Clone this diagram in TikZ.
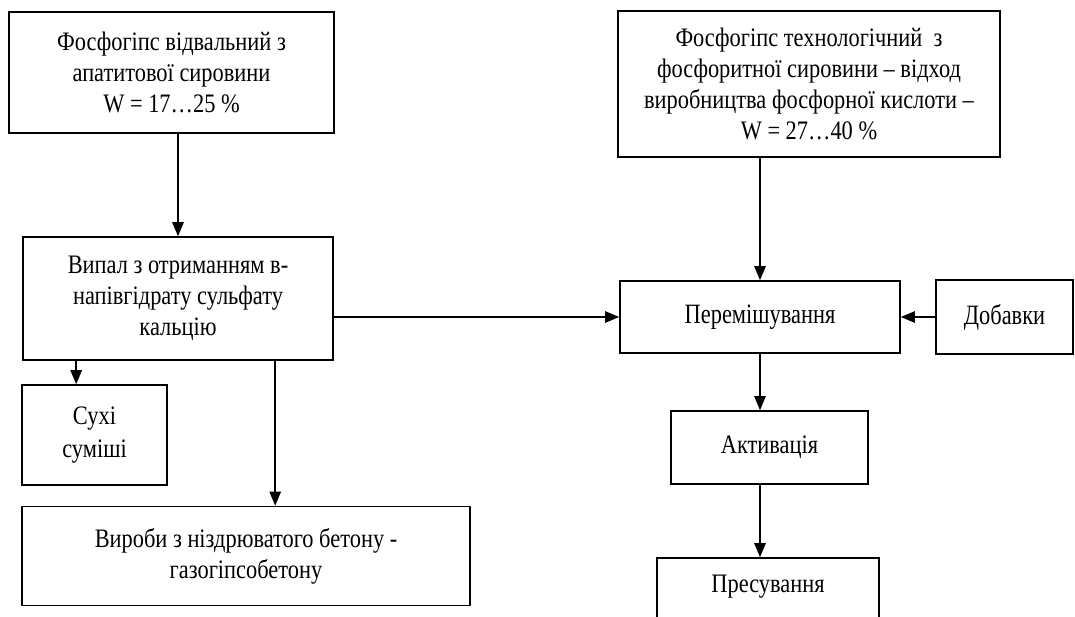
\documentclass[tikz,border=0pt]{standalone}
\usepackage{fontspec}
\setmainfont{Liberation Serif}[FakeStretch=0.84]
\newfontfamily\bigf{Liberation Serif}[FakeStretch=0.8]
\usetikzlibrary{arrows.meta}
\begin{document}
\begin{tikzpicture}[x=0.75pt,y=-0.75pt,
  box/.style={draw, line width=1.2pt, rectangle, inner sep=0pt, align=center, font=\fontsize{20}{23.25}\selectfont},
  bigbox/.style={box, font=\bigf\fontsize{21}{24}\selectfont},
  plain/.style={inner sep=0pt, align=center, font=\fontsize{20}{23.25}\selectfont},
  arr/.style={line width=1.2pt, -{Triangle[length=10.5pt,width=8.5pt]}}]
\clip (0,0) rectangle (1075,617);
\fill[white] (0,0) rectangle (1075,617);
\node[box, minimum width=243.75pt, minimum height=90.75pt] (b1) at (171.5,72.5)
  {Фосфогіпс відвальний з\\апатитової сировини\\W = 17…25 \%};
\node[box, minimum width=286.5pt, minimum height=109.5pt] (b2) at (809,84)
  {Фосфогіпс технологічний~ з\\фосфоритної сировини – відход\\виробництва фосфорної кислоти –\\W = 27…40 \%};
\node[box, minimum width=232.5pt, minimum height=92.25pt] (b3) at (178,298.5)
  {Випал з отриманням в-\\напівгідрату сульфату\\кальцію};
\node[box, minimum width=108.75pt, minimum height=75pt] (sux) at (94.5,435)
  {Сухі\\[2pt]суміші};
\node[box, minimum width=336pt, minimum height=74.25pt] (vyr) at (246,556)
  {Вироби з ніздрюватого бетону -\\газогіпсобетону};
\node[bigbox, minimum width=210pt, minimum height=54pt] (per) at (760,317)
  {Перемішування};
\node[bigbox, minimum width=102.75pt, minimum height=55.5pt] (dob) at (1004.5,317)
  {Добавки};
\node[box, minimum width=147.75pt, minimum height=54.75pt] (akt) at (769.5,447.5)
  {Активація};
\node[box, minimum width=166.5pt, minimum height=76.5pt] (pres) at (768,609) {};
\node[plain] (prestext) at (768,587) {Пресування};
\coordinate (b3s1) at ([xshift=40.5pt]b3.south west);
\coordinate (b3s2) at ([xshift=189.75pt]b3.south west);
\draw[arr] (b1.south -| b3.north) -- (b3.north);
\draw[arr] (b2.south -| per.north) -- (per.north);
\draw[arr] (b3.east |- per.west) -- (per.west);
\draw[arr] (dob.west) -- (per.east);
\draw[arr] (b3s1) -- (b3s1 |- sux.north);
\draw[arr] (b3s2) -- (b3s2 |- vyr.north);
\draw[arr] (per.south) -- (per.south |- akt.north);
\draw[arr] (akt.south -| per.south) -- (pres.north -| per.south);
\end{tikzpicture}
\end{document}
